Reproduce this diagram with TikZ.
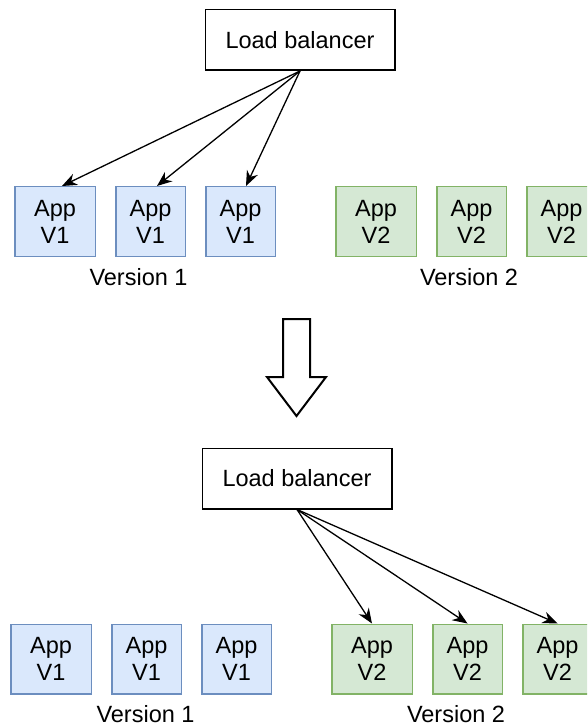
\documentclass[tikz,border=0pt]{standalone}
\usepackage{fontspec}
\setmainfont{Liberation Sans}
\usetikzlibrary{positioning}
\usetikzlibrary{arrows.meta}

\definecolor{bluefill}{HTML}{DAE8FC}
\definecolor{blueline}{HTML}{6C8EBF}
\definecolor{greenfill}{HTML}{D5E8D4}
\definecolor{greenline}{HTML}{82B366}

\begin{document}
\begin{tikzpicture}[x=1pt, y=-1pt,
            font=\fontsize{23.5}{27}\selectfont,
            balancer/.style={draw=black, line width=1.5pt, rectangle, align=center,
            minimum width=189.5pt, minimum height=60.5pt},
            app/.style={rectangle, line width=1.5pt, align=center, inner sep=0pt,
            minimum width=69.5pt, minimum height=69.5pt, node distance=19pt},
            appone/.style={app, draw=blueline, fill=bluefill},
            apptwo/.style={app, draw=greenline, fill=greenfill},
            route/.style={line width=1.3pt, -{Stealth[length=15pt, width=12pt]}}]
        \clip (0,0) rectangle (587,727);

        % before
        \node[balancer] (lb-top) at (300,40) {Load balancer};
        \node[appone, minimum width=80.5pt] (v1a-top) at (55,221.5) {App\\V1};
        \node[appone] (v1b-top) [right=of v1a-top] {App\\V1};
        \node[appone] (v1c-top) [right=of v1b-top] {App\\V1};
        \node[apptwo, minimum width=80.5pt] (v2a-top) [right=59pt of v1c-top] {App\\V2};
        \node[apptwo] (v2b-top) [right=of v2a-top] {App\\V2};
        \node[apptwo] (v2c-top) [right=of v2b-top] {App\\V2};
        \node (ver1-top) at (138.5,277) {Version 1};
        \node (ver2-top) at (469,277) {Version 2};

        \draw[route] (lb-top.south) -- ([xshift=7pt]v1a-top.north);
        \draw[route] (lb-top.south) -- ([xshift=6.5pt]v1b-top.north);
        \draw[route] (lb-top.south) -- ([xshift=5.5pt]v1c-top.north);

        % switch
        \draw[line width=2pt, line join=miter, fill=white]
            (283,319) -- (310,319) -- (310,377) -- (326,377) -- (296.5,416)
            -- (267,377) -- (283,377) -- cycle;

        % after
        \node[balancer] (lb-bot) at (297,478.5) {Load balancer};
        \node[appone, minimum width=80.5pt] (v1a-bot) at (51,659) {App\\V1};
        \node[appone] (v1b-bot) [right=of v1a-bot] {App\\V1};
        \node[appone] (v1c-bot) [right=of v1b-bot] {App\\V1};
        \node[apptwo, minimum width=80.5pt] (v2a-bot) [right=59pt of v1c-bot] {App\\V2};
        \node[apptwo] (v2b-bot) [right=of v2a-bot] {App\\V2};
        \node[apptwo] (v2c-bot) [right=of v2b-bot] {App\\V2};
        \node (ver1-bot) at (145.5,714) {Version 1};
        \node (ver2-bot) at (456,714) {Version 2};

        \draw[route] (lb-bot.south) -- (v2a-bot.north);
        \draw[route] (lb-bot.south) -- (v2b-bot.north);
        \draw[route] (lb-bot.south) -- (v2c-bot.north);
    \end{tikzpicture}
\end{document}
